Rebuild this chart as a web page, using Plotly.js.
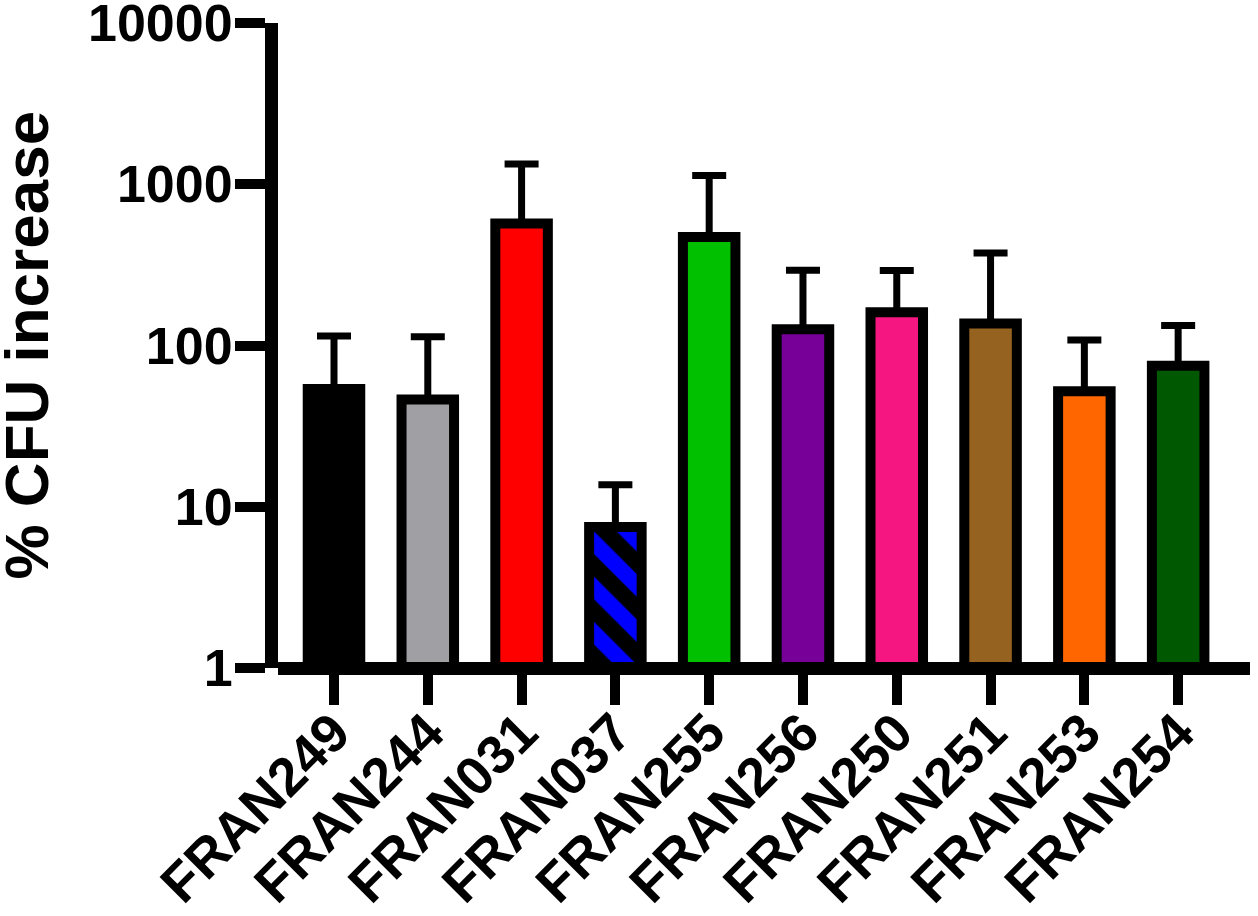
<!DOCTYPE html>
<html>
<head>
<meta charset="utf-8">
<script src="https://cdn.plot.ly/plotly-3.0.1.min.js"></script>
<style>
  html, body { margin: 0; padding: 0; background: #fff; }
  #chart { width: 1258px; height: 916px; }
</style>
</head>
<body>
<div id="chart"></div>
<script>
// strains and % CFU increase (mean + upper SEM)
const strains = ['FRAN249', 'FRAN244', 'FRAN031', 'FRAN037', 'FRAN255',
                 'FRAN256', 'FRAN250', 'FRAN251', 'FRAN253', 'FRAN254'];
const meanCfu = [53.7, 46.3, 571, 7.5, 471, 126, 161, 137, 52, 75];
const semCfu  = [61, 67, 765, 6.2, 662, 167, 131, 238, 56, 58];
const barColors = ['#000000', '#a0a0a4', '#ff0000', '#0000ff', '#00c000',
                   '#770098', '#f51682', '#966220', '#ff6600', '#005800'];
const hatched = [false, false, false, true, false, false, false, false, false, false];
const yTickVals = [1, 10, 100, 1000, 10000];
const yTickText = ['1', '10', '100', '1000', '10000'];
const yTitle = '% CFU increase';

const boldFont = (size) => ({ family: 'Liberation Sans, Arial, sans-serif', size: size, color: '#000', weight: 'bold' });

const pick = (arr, wantHatch) => arr.filter((_, i) => hatched[i] === wantHatch);

const errorBars = (sem) => ({
  type: 'data',
  symmetric: false,
  array: sem,
  arrayminus: sem.map(() => 0),
  color: '#000',
  thickness: 7,
  width: 17
});

// plain filled bars
const plainTrace = {
  type: 'bar',
  x: pick(strains, false),
  y: pick(meanCfu, false),
  width: 0.56,
  marker: { color: pick(barColors, false), line: { color: '#000', width: 10 } },
  error_y: errorBars(pick(semCfu, false)),
  hoverinfo: 'x+y'
};

// hatched bar (black stripes on its colour); a scalar colour so the pattern colours are kept
const hatchIdx = hatched.indexOf(true);
const hatchTrace = {
  type: 'bar',
  x: pick(strains, true),
  y: pick(meanCfu, true),
  width: 0.56,
  marker: {
    color: barColors[hatchIdx],
    line: { color: '#000', width: 10 },
    pattern: { shape: '\\', fillmode: 'replace', bgcolor: barColors[hatchIdx], fgcolor: '#000', fgopacity: 1, size: 32, solidity: 0.5 }
  },
  error_y: errorBars(pick(semCfu, true)),
  hoverinfo: 'x+y'
};

const marginL = 278, marginR = 8;
const plotW = 1258 - marginL - marginR;

const layout = {
  width: 1258,
  height: 916,
  margin: { l: marginL, r: marginR, t: 23, b: 248 },
  paper_bgcolor: '#fff',
  plot_bgcolor: '#fff',
  showlegend: false,
  barmode: 'overlay',
  xaxis: {
    type: 'category',
    categoryorder: 'array',
    categoryarray: strains,
    range: [-0.597, 9.766],
    anchor: 'free',
    position: 0,
    showline: true, linecolor: '#000', linewidth: 13,
    ticks: 'outside', ticklen: 30, tickwidth: 10, tickcolor: '#000',
    tickangle: -45,
    tickfont: boldFont(54),
    ticklabelstandoff: -26,
    ticklabeloverflow: 'allow',
    showgrid: false, zeroline: false, fixedrange: true
  },
  yaxis: {
    type: 'log',
    range: [0, 4],
    tickvals: yTickVals,
    ticktext: yTickText,
    showline: true, linecolor: '#000', linewidth: 13,
    ticks: 'outside', ticklen: 30, tickwidth: 10, tickcolor: '#000',
    tickfont: boldFont(52),
    ticklabelstandoff: -8,
    ticklabeloverflow: 'allow',
    showgrid: false, zeroline: false, fixedrange: true
  },
  annotations: [{
    text: yTitle,
    xref: 'paper', yref: 'paper',
    x: (26 - marginL) / plotW, y: 0.5,
    xanchor: 'center', yanchor: 'middle',
    textangle: -90,
    showarrow: false,
    font: boldFont(62)
  }]
};

Plotly.newPlot('chart', [plainTrace, hatchTrace], layout, { displayModeBar: false, staticPlot: true });
</script>
</body>
</html>
